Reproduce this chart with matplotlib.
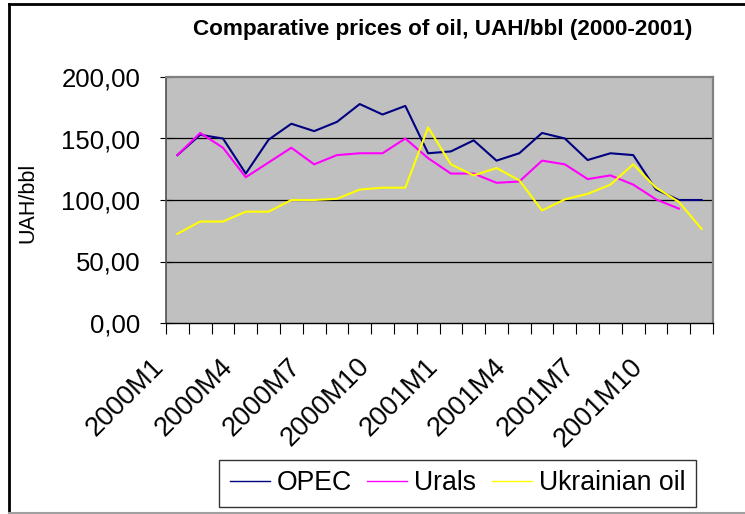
import numpy as np
import matplotlib
matplotlib.use('Agg')
from matplotlib import pyplot as plt
from matplotlib.lines import Line2D
from matplotlib.transforms import ScaledTranslation

plt.rcParams['font.family'] = ['Liberation Sans', 'DejaVu Sans']

# monthly prices, UAH/bbl, 2000M1 .. 2001M12
months = ['%dM%d' % (y, m) for y in (2000, 2001) for m in range(1, 13)]
opec = [136.5, 153.0, 150.0, 121.5, 149.0, 162.0, 156.0, 163.5, 178.0, 169.5,
        176.5, 138.0, 139.5, 148.5, 132.0, 138.0, 154.5, 150.0, 132.5, 138.0,
        136.5, 108.5, 100.0, 100.0]
urals = [136.5, 154.5, 142.5, 118.5, 130.5, 142.5, 129.0, 136.5, 138.0, 138.0,
         150.0, 134.0, 121.5, 121.5, 114.0, 115.0, 132.0, 129.0, 117.0, 120.0,
         112.5, 100.5, 93.0, np.nan]
ukrainian = [72.5, 82.5, 82.5, 90.5, 90.5, 100.0, 100.0, 101.0, 108.5, 110.0,
             110.0, 159.0, 129.0, 120.0, 126.0, 116.0, 91.5, 100.5, 105.0, 112.5,
             129.0, 110.0, 98.5, 76.5]
labels_every = 3

fig = plt.figure(figsize=(7.45, 5.14), dpi=100)
ax = fig.add_axes([166 / 745, 1 - 323 / 514, (713 - 166) / 745, (323 - 77) / 514])
ax.set_facecolor('#C0C0C0')

x = np.arange(len(months))
ax.plot(x, opec, color='#000080', lw=1.5, label='OPEC')
ax.plot(x, urals, color='#FF00FF', lw=1.5, label='Urals')
ax.plot(x, ukrainian, color='#FFFF00', lw=1.5, label='Ukrainian oil')

ax.set_xlim(-0.5, len(months) - 0.5)
ax.set_ylim(0, 200)
ax.set_yticks(np.arange(0, 201, 50))
ax.set_yticklabels([('%.2f' % v).replace('.', ',') for v in np.arange(0, 201, 50)])
for v in (50, 100, 150):
    ax.axhline(v, color='black', lw=0.9, zorder=1)

ax.set_xticks(x[::labels_every])
ax.set_xticklabels(months[::labels_every])
ax.set_xticks(np.arange(-0.5, len(months)), minor=True)
ax.tick_params(axis='x', which='major', length=0, pad=32, labelsize=19.5)
ax.tick_params(axis='x', which='minor', length=8, direction='out', width=0.8)
ax.tick_params(axis='y', length=9, direction='inout', pad=14, labelsize=18.5, width=0.8)

off = ScaledTranslation(-12 / 100, 0, fig.dpi_scale_trans)
for lbl in ax.get_xticklabels():
    lbl.set_rotation(45)
    lbl.set_ha('right')
    lbl.set_va('baseline')
    lbl.set_rotation_mode('anchor')
    lbl.set_transform(lbl.get_transform() + off)

for s in ('top', 'right'):
    ax.spines[s].set_color('#808080')
    ax.spines[s].set_linewidth(1.6)
ax.spines['left'].set_color('#505050')
ax.spines['left'].set_linewidth(1.2)
ax.spines['bottom'].set_color('black')
ax.spines['bottom'].set_linewidth(1.0)

fig.text(28 / 745, 1 - 203 / 514, 'UAH/bbl', rotation=90, fontsize=15.5,
         ha='center', va='center')
fig.text(442.5 / 745, 1 - 29 / 514, 'Comparative prices of oil, UAH/bbl (2000-2001)',
         fontsize=16.2, fontweight='bold', ha='center', va='center')

leg = fig.legend(loc='lower left', bbox_to_anchor=(219 / 745, 1 - 507 / 514), ncol=3,
                 fontsize=19.2, frameon=True, fancybox=False, handlelength=1.5,
                 handletextpad=0.25, columnspacing=0.6, borderpad=0.4,
                 borderaxespad=0)
leg.get_frame().set_edgecolor('black')
leg.get_frame().set_linewidth(1.0)
for h in leg.get_lines():
    h.set_linewidth(1.0)

# outer chart border
fig.add_artist(Line2D([9 / 745, 9 / 745], [0, 1 - 4 / 514], color='black', lw=2))
fig.add_artist(Line2D([9 / 745, 1], [1 - 4 / 514, 1 - 4 / 514], color='black', lw=2))
fig.add_artist(Line2D([9 / 745, 1], [1 / 514, 1 / 514], color='#A0A0A0', lw=1.5))

plt.savefig('out.png', dpi=100)
